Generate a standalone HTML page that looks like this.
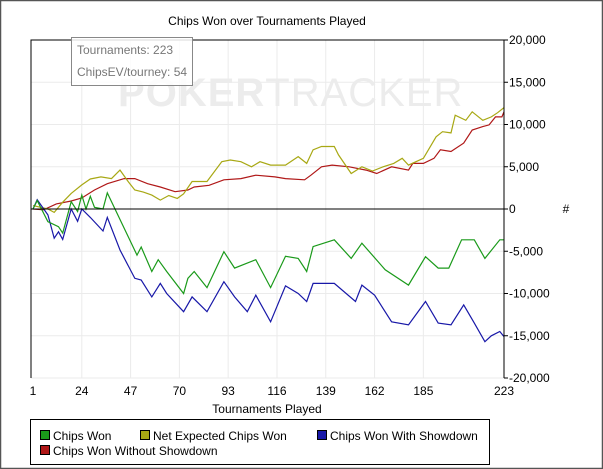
<!DOCTYPE html>
<html><head><meta charset="utf-8"><style>
html,body{margin:0;padding:0;background:#fff;}
svg{display:block;font-family:"Liberation Sans",Arial,sans-serif;}
</style></head><body>
<svg id="chart" width="603" height="469" viewBox="0 0 603 469" xmlns="http://www.w3.org/2000/svg">
<rect x="0.5" y="0.5" width="602" height="468" fill="#fff" stroke="#555" stroke-width="1.5"/>
<text x="267" y="25" font-size="12" text-anchor="middle" fill="#000">Chips Won over Tournaments Played</text>
<g id="grid"></g>
<text x="118" y="106" font-size="40" font-weight="bold" fill="#ececec" letter-spacing="1">P<tspan fill="#ececec">O</tspan>KER<tspan font-weight="normal">TRACKER</tspan></text>
<g id="series"></g>
<g id="axes"></g>
<g>
<rect x="71.5" y="37.5" width="121" height="48" fill="#fff" fill-opacity="0.85" stroke="#888"/>
<text x="77" y="54" font-size="12" fill="#777">Tournaments: 223</text>
<text x="77" y="76" font-size="12" fill="#777">ChipsEV/tourney: 54</text>
</g>
<text x="267" y="413" font-size="12" text-anchor="middle">Tournaments Played</text>
<text x="566" y="213" font-size="12" text-anchor="middle">#</text>
<g>
<rect x="30.5" y="419.5" width="459" height="45" fill="#fff" stroke="#000"/>
<g><rect x="40.5" y="430.5" width="9" height="9" fill="#1a9a1a" stroke="#000"/><text x="53" y="440" font-size="12">Chips Won</text></g>
<g><rect x="140.5" y="430.5" width="9" height="9" fill="#a8a814" stroke="#000"/><text x="153" y="440" font-size="12">Net Expected Chips Won</text></g>
<g><rect x="317.5" y="430.5" width="9" height="9" fill="#1818a8" stroke="#000"/><text x="330" y="440" font-size="12">Chips Won With Showdown</text></g>
<g><rect x="40.5" y="445.5" width="9" height="9" fill="#b01818" stroke="#000"/><text x="53" y="455" font-size="12">Chips Won Without Showdown</text></g>
</g>
</svg>
<script>
const xTicks=[1,24,47,70,93,116,139,162,185,223];
const yTicks=[20000,15000,10000,5000,0,-5000,-10000,-15000,-20000];
const yTickLabels=["20,000","15,000","10,000","5,000","0","-5,000","-10,000","-15,000","-20,000"];
const greenT=[1,3,8,13,15,19,22,24,26,28,30,34,36,50,52,57,60,64,72,74,77,83,91,96,106,113,120,126,130,133,143,151,156,167,178,186,192,197,203,209,214,221,223];
const greenV=[0,1000,-1500,-2100,-2850,860,-300,1650,0,1500,200,0,1900,-5450,-4500,-7400,-6000,-7400,-10000,-8200,-7400,-9300,-5050,-7000,-6000,-9300,-5600,-5850,-7400,-4450,-3650,-5850,-4050,-7200,-9000,-5650,-7000,-7000,-3650,-3650,-5850,-3650,-3650];
const blueT=[1,3,8,11,13,15,19,22,24,28,34,36,42,49,52,57,61,64,72,76,83,91,96,102,106,113,120,126,130,133,143,153,156,162,170,178,186,192,198,204,209,214,217,221,223];
const blueV=[0,1100,-700,-3450,-2700,-3600,0,-1450,0,-1000,-2600,-1000,-4850,-8200,-8400,-10400,-8800,-10000,-12150,-10400,-12150,-8600,-10400,-12150,-10200,-13350,-9100,-10000,-10950,-8800,-8800,-10950,-9000,-10200,-13350,-13700,-10950,-13500,-13700,-11350,-13500,-15700,-15000,-14500,-15100];
const yellowT=[1,8,11,15,19,24,28,33,38,42,46,49,53,57,61,65,69,72,76,83,90,94,99,104,108,113,120,126,130,133,137,143,145,151,156,161,166,171,175,178,185,191,194,198,200,205,208,213,217,220,223];
const yellowV=[400,0,-400,800,1850,2850,3550,3800,3600,4600,3200,2250,2000,1650,1050,1600,1250,1800,3250,3250,5600,5800,5600,5000,5600,5200,5200,6200,5400,7000,7400,7400,6400,4200,5000,4500,5000,5400,6000,5200,6000,8550,9150,9000,11100,10500,11500,10500,10900,11400,12000];
const redT=[1,6,12,19,24,30,36,44,49,55,61,68,74,77,84,91,99,106,115,120,129,132,137,142,150,158,163,170,178,180,185,190,193,198,204,208,213,216,219,222,223];
const redV=[0,-100,600,950,1300,2250,3000,3600,3600,3000,2600,2050,2250,2600,2800,3450,3600,4000,3800,3600,3450,4000,5000,5200,5000,4600,4200,5000,4600,5400,5400,6000,7000,6800,7800,9350,9750,9950,10900,10900,11500];

const NS="http://www.w3.org/2000/svg";
const L=31,R=504,T=40,B=378;
const xs=t=>33+(t-1)*(R-33)/222;
const ys=v=>T+(20000-v)*(B-T)/40000;
function mk(tag,attrs,parent){const e=document.createElementNS(NS,tag);for(const k in attrs)e.setAttribute(k,attrs[k]);parent.appendChild(e);return e;}
const grid=document.getElementById('grid'),axes=document.getElementById('axes'),ser=document.getElementById('series');
xTicks.forEach(t=>{if(t===1||t===223)return;const l=mk('line',{x1:xs(t),x2:xs(t),y1:T,y2:B,stroke:'#ebebeb'},grid);

});
yTicks.forEach(v=>{if(v===0)return;const l=mk('line',{x1:L,x2:R,y1:ys(v),y2:ys(v),stroke:'#ebebeb'},grid);

});
function line(ts,vs,color,name){const p=mk('polyline',{points:ts.map((t,i)=>xs(t).toFixed(1)+','+ys(vs[i]).toFixed(1)).join(' '),fill:'none',stroke:color,'stroke-width':1.2},ser);

}
line(redT,redV,'#b01818','line-without-showdown');
line(yellowT,yellowV,'#a8a814','line-net-expected');
line(blueT,blueV,'#1818a8','line-with-showdown');
line(greenT,greenV,'#1a9a1a','line-chips-won');
const zl=mk('line',{x1:L,x2:R,y1:ys(0),y2:ys(0),stroke:'#000'},axes);


mk('polyline',{points:`${R},${T} ${L},${T} ${L},${B}`,fill:'none',stroke:'#000'},axes);
const ya=mk('line',{x1:R,x2:R,y1:T,y2:B,stroke:'#000'},axes);


yTicks.forEach((v,i)=>{mk('line',{x1:R,x2:R+4,y1:ys(v),y2:ys(v),stroke:'#000'},axes);
const tx=mk('text',{x:R+5,y:ys(v)+4,'font-size':12},axes);tx.textContent=yTickLabels[i];

});
xTicks.forEach(t=>{const tx=mk('text',{x:xs(t),y:395,'font-size':12,'text-anchor':'middle'},axes);tx.textContent=String(t);

});
</script>
</body></html>
